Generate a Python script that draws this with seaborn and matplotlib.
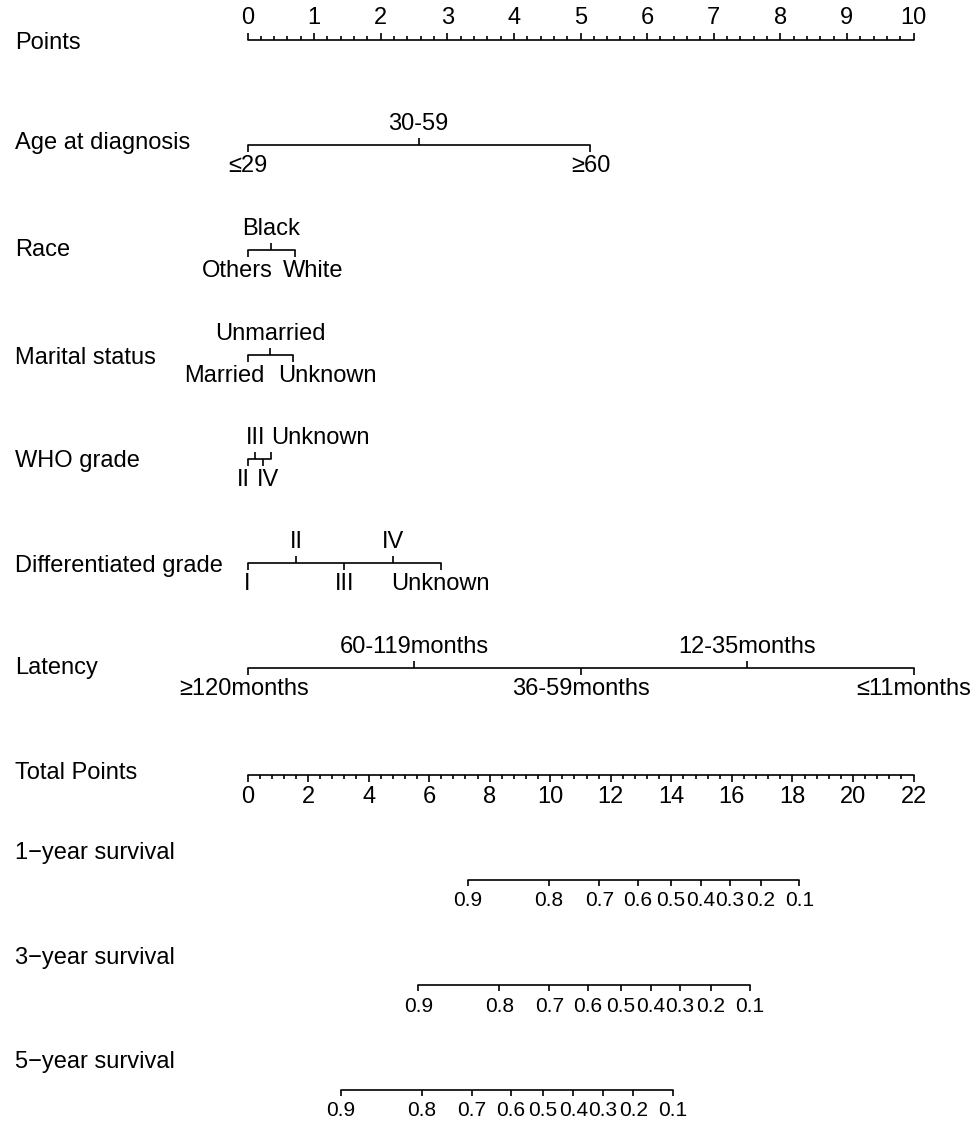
import numpy as np
import pandas as pd
import matplotlib
matplotlib.use("Agg")
import matplotlib.pyplot as plt
import seaborn as sns

# ---- values ----
age_levels = ["≤29", "30-59", "≥60"]
age_points = [0.0, 2.57, 5.15]

race_levels = ["Others", "Black", "White"]
race_points = [0.0, 0.36, 0.72]

marital_levels = ["Married", "Unmarried", "Unknown"]
marital_points = [0.0, 0.34, 0.69]

who_levels = ["II", "III", "IV", "Unknown"]
who_points = [0.0, 0.115, 0.24, 0.35]

diff_levels = ["I", "II", "III", "IV", "Unknown"]
diff_points = [0.0, 0.73, 1.455, 2.19, 2.90]

latency_levels = ["≥120months", "60-119months", "36-59months", "12-35months", "≤11months"]
latency_points = [0.0, 2.5, 5.0, 7.5, 10.0]

points_max = 10
total_max = 22

surv_probs = [0.9, 0.8, 0.7, 0.6, 0.5, 0.4, 0.3, 0.2, 0.1]
surv_1y_total = [7.28, 9.96, 11.62, 12.90, 13.98, 14.97, 15.94, 16.95, 18.23]
surv_3y_total = [5.64, 8.32, 9.97, 11.25, 12.33, 13.32, 14.29, 15.31, 16.60]
surv_5y_total = [3.08, 5.75, 7.41, 8.69, 9.75, 10.76, 11.73, 12.74, 14.05]

# ---- layout (pixels) ----
W, H = 979, 1123
X0 = 247.5           # pixel of 0 points
PX = 66.6            # pixels per point
FS = 17
FS_SMALL = 15
LW = 1.2

sns.set_theme(style="white")
plt.rcParams["font.family"] = ["Liberation Sans", "DejaVu Sans"]

fig = plt.figure(figsize=(W / 100, H / 100), dpi=100)
ax = fig.add_axes([0, 0, 1, 1])
ax.set_xlim(-X0 / PX, (W - X0) / PX)
ax.set_ylim(H, 0)
ax.axis("off")


def px(d):
    return d / PX


def row_label(text, y):
    ax.text(px(15 - X0), y, text, ha="left", va="center", fontsize=FS, color="black")


lines = []  # collected for seaborn


def add_line(name, x0, x1, y):
    lines.append(pd.DataFrame({"row": name, "x": [x0, x1], "y": [y, y]}))


def categorical(name, levels, pts, y, nudges=None, ha=None):
    nudges = nudges or {}
    ha = ha or {}
    add_line(name, min(pts), max(pts), y)
    order = np.argsort(pts)
    for rank, i in enumerate(order):
        below = rank % 2 == 0
        x = pts[i]
        ax.vlines(x, y, y + 7 if below else y - 7, color="black", lw=LW)
        lab = levels[i]
        ax.text(x + px(nudges.get(lab, 0)), y + 21 if below else y - 21, lab,
                ha=ha.get(lab, "center"), va="center", fontsize=FS, color="black")


# Points axis
row_label("Points", 43)
add_line("points", 0, points_max, 40)
for v in np.arange(0, points_max + 0.001, 0.2):
    major = abs(v - round(v)) < 1e-6
    ax.vlines(v, 40, 40 - (7 if major else 4), color="black", lw=LW)
for v in range(0, points_max + 1):
    ax.text(v, 18, str(v), ha="center", va="center", fontsize=FS, color="black")

row_label("Age at diagnosis", 143)
categorical("age", age_levels, age_points, 145)

row_label("Race", 250)
categorical("race", race_levels, race_points, 250, nudges={"Others": -10, "White": 18})

row_label("Marital status", 358)
categorical("marital", marital_levels, marital_points, 355,
            nudges={"Married": -23, "Unknown": 34})

row_label("WHO grade", 461)
categorical("who", who_levels, who_points, 459, nudges={"II": -4, "IV": 5},
            ha={"Unknown": "left"})

row_label("Differentiated grade", 566)
categorical("diff", diff_levels, diff_points, 563)

row_label("Latency", 668)
categorical("latency", latency_levels, latency_points, 668,
            nudges={"≥120months": -3})

# Total points axis
scale = points_max / total_max
row_label("Total Points", 773)
add_line("total", 0, total_max * scale, 775)
for v in np.arange(0, total_max + 0.001, 0.4):
    major = abs(v / 2 - round(v / 2)) < 1e-6
    ax.vlines(v * scale, 775, 775 + (7 if major else 4), color="black", lw=LW)
for v in range(0, total_max + 1, 2):
    ax.text(v * scale, 797, str(v), ha="center", va="center", fontsize=FS, color="black")

# Survival axes
for name, tot, ly, y in [("1\u2212year survival", surv_1y_total, 853, 880),
                         ("3\u2212year survival", surv_3y_total, 958, 985),
                         ("5\u2212year survival", surv_5y_total, 1062, 1090)]:
    row_label(name, ly)
    xs = np.array(tot) * scale
    add_line(name, xs.min(), xs.max(), y)
    ax.vlines(xs, y, y + 6, color="black", lw=LW)
    for p, x in zip(surv_probs, xs):
        ax.text(x, y + 21, f"{p:.1f}", ha="center", va="center",
                fontsize=FS_SMALL, color="black")

line_df = pd.concat(lines, ignore_index=True)
sns.lineplot(data=line_df, x="x", y="y", units="row", estimator=None, sort=False,
             color="black", lw=LW, ax=ax, legend=False)
ax.set_xlim(-X0 / PX, (W - X0) / PX)
ax.set_ylim(H, 0)
ax.axis("off")

fig.savefig("out.png", dpi=100, facecolor="white")
